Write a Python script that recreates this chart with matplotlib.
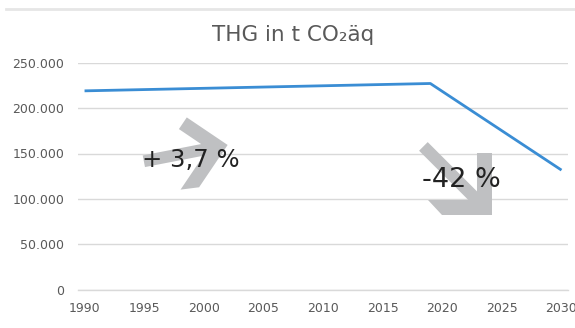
import numpy as np
import matplotlib
matplotlib.use("Agg")
import matplotlib.pyplot as plt
from matplotlib.patches import Polygon
from matplotlib.transforms import Affine2D, ScaledTranslation

# data
years = [1990, 2019, 2030]
thg = [219000, 227100, 131700]
xticks = [1990, 1995, 2000, 2005, 2010, 2015, 2020, 2025, 2030]
yticks = [0, 50000, 100000, 150000, 200000, 250000]
ytick_labels = ["0", "50.000", "100.000", "150.000", "200.000", "250.000"]

grey_txt = "#595959"
grid_col = "#D9D9D9"
arrow_col = "#BFC0C2"

fig = plt.figure(figsize=(5.75, 3.28), dpi=100)
ax = fig.add_axes([78 / 575, 1 - 289.7 / 328, (567.7 - 78) / 575, 227 / 328])

ax.plot(years, thg, color="#3A8DD4", lw=2.0, solid_capstyle="butt", zorder=3)

ax.set_xlim(1989.45, 2030.52)
ax.set_ylim(0, 250000)
ax.set_xticks(xticks)
ax.set_yticks(yticks)
ax.set_yticklabels(ytick_labels)
ax.tick_params(axis="both", length=0, labelsize=9, colors=grey_txt)
ax.tick_params(axis="x", pad=8.5)
ax.tick_params(axis="y", pad=10)
ax.grid(axis="y", color=grid_col, lw=1.0)
ax.set_axisbelow(True)
for s in ["top", "right", "left"]:
    ax.spines[s].set_visible(False)
ax.spines["bottom"].set_color(grid_col)
ax.spines["bottom"].set_linewidth(1.0)


def arrow_pts(a=62, a2=50, t=15, w=12.2, L=97):
    # bent arrow, corner at origin, pointing down-right (pixels, y up)
    h = w / 2
    r = np.sqrt(2)
    return np.array([
        (0, 0), (0, a), (-t, a), (-t, t + h * r),
        ((-L + h) / r, (L + h) / r), ((-L - h) / r, (L - h) / r),
        (-t - h * r, t), (-a2 - 14, t), (-a2, 0),
    ])


def add_arrow(x, y, rot, scale, **kw):
    tr = Affine2D().scale(scale).rotate_deg(rot) + ScaledTranslation(x, y, ax.transData)
    p = Polygon(arrow_pts(**kw), closed=True, fc=arrow_col, ec="none", transform=tr, zorder=2)
    p.set_clip_on(False)
    ax.add_patch(p)


add_arrow(2002.0, 159400, 56, 0.88, a=56, a2=58, t=16, w=13.5)
add_arrow(2024.17, 82270, 0, 1.0)

ax.text(1998.9, 135460, "+ 3,7 %", ha="center", va="baseline", fontsize=17.5, color="#222222", zorder=4)
ax.text(2021.57, 113440, "-42 %", ha="center", va="baseline", fontsize=19.5, color="#222222", zorder=4)

fig.text(292.8 / 575, 1 - 40.7 / 328, "THG in t CO₂äq", ha="center", va="baseline", fontsize=15.5, color=grey_txt)

# faint border line at the top of the chart area
fig.add_artist(plt.Line2D([6 / 575, 1], [1 - 9 / 328, 1 - 9 / 328], color="#E6E6E6", lw=2, transform=fig.transFigure))

fig.savefig("out.png", dpi=100)
